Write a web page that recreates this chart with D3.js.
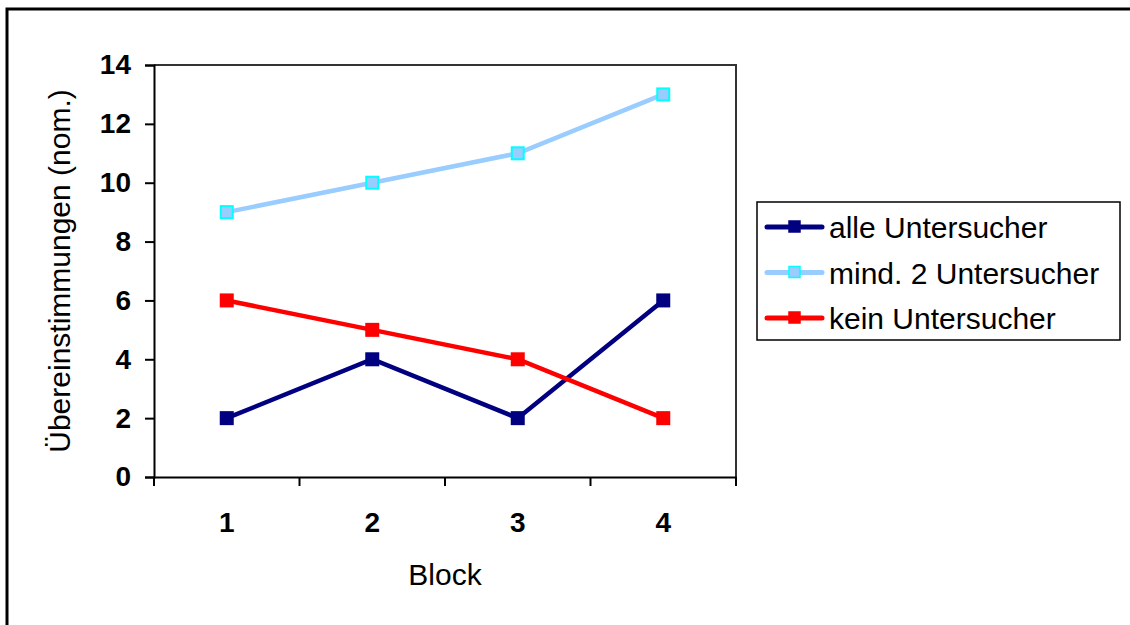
<!DOCTYPE html>
<html>
<head>
<meta charset="utf-8">
<script src="https://cdn.jsdelivr.net/npm/d3@7"></script>
<style>
  body { margin: 0; background: #fff; }
  text { font-family: "Liberation Sans", Arial, sans-serif; }
</style>
</head>
<body>
<div id="grafico"></div>
<script>
// Daten
var blocks = ["1", "2", "3", "4"];
var alleUntersucher = [2, 4, 2, 6];
var mind2Untersucher = [9, 10, 11, 13];
var keinUntersucher = [6, 5, 4, 2];
var yTicks = [0, 2, 4, 6, 8, 10, 12, 14];

var reihen = [
    { name: "alle Untersucher", werte: alleUntersucher, linie: "#000080", fuell: "#000080", rand: "#000080" },
    { name: "mind. 2 Untersucher", werte: mind2Untersucher, linie: "#99CCFF", fuell: "#99CCFF", rand: "#00FFFF" },
    { name: "kein Untersucher", werte: keinUntersucher, linie: "#FF0000", fuell: "#FF0000", rand: "#FF0000" }
];

var width = 1130, height = 625;
var plot = { left: 154, top: 65, right: 736, bottom: 477 };

var svg = d3.select("#grafico")
    .append("svg")
    .attr("width", width)
    .attr("height", height);

// Rahmen
svg.append("rect")
    .attr("x", 7).attr("y", 9)
    .attr("width", 1140).attr("height", 640)
    .attr("fill", "none").attr("stroke", "#000").attr("stroke-width", 3);

var x = d3.scaleBand().domain(blocks).range([plot.left, plot.right]);
var y = d3.scaleLinear().domain([0, 14]).range([plot.bottom, plot.top]);

// Zeichenfläche (oben und rechts)
svg.append("path")
    .attr("d", "M" + plot.left + "," + plot.top + "H" + plot.right + "V" + plot.bottom)
    .attr("fill", "none").attr("stroke", "#333").attr("stroke-width", 2);

// Y-Achse
var yAxis = svg.append("g")
    .attr("transform", "translate(" + plot.left + ",0)")
    .call(d3.axisLeft(y).tickValues(yTicks).tickSize(9).tickPadding(14));
yAxis.attr("font-size", 28).attr("font-family", null);
yAxis.selectAll("text").attr("font-weight", "bold").attr("fill", "#000");
yAxis.selectAll("line, path").attr("stroke", "#000").attr("stroke-width", 2);

// X-Achse
var xAxis = svg.append("g")
    .attr("transform", "translate(0," + plot.bottom + ")")
    .call(d3.axisBottom(x).tickSize(0).tickPadding(35));
xAxis.attr("font-size", 28).attr("font-family", null);
xAxis.selectAll("text").attr("font-weight", "bold").attr("fill", "#000");
xAxis.select("path").attr("stroke", "#000").attr("stroke-width", 2);
// Trennstriche zwischen den Kategorien
var grenzen = blocks.map(function(b) { return x(b); }).concat([x(blocks[blocks.length - 1]) + x.bandwidth()]);
xAxis.selectAll("line.grenze")
    .data(grenzen)
    .enter()
    .append("line")
    .attr("class", "grenze")
    .attr("x1", function(d) { return d; }).attr("x2", function(d) { return d; })
    .attr("y1", 0).attr("y2", 9)
    .attr("stroke", "#000").attr("stroke-width", 2);

// Achsentitel
svg.append("text")
    .attr("transform", "translate(70,271) rotate(-90)")
    .attr("text-anchor", "middle")
    .attr("font-size", 30)
    .text("Übereinstimmungen (nom.)");

svg.append("text")
    .attr("x", x("2") + x.bandwidth()).attr("y", 585)
    .attr("text-anchor", "middle")
    .attr("font-size", 30)
    .text("Block");

// Linien
var linie = d3.line()
    .x(function(d, i) { return x(blocks[i]) + x.bandwidth() / 2; })
    .y(function(d) { return y(d); });

var gruppen = svg.selectAll("g.reihe")
    .data(reihen)
    .enter()
    .append("g")
    .attr("class", "reihe");

gruppen.append("path")
    .attr("d", function(d) { return linie(d.werte); })
    .attr("fill", "none")
    .attr("stroke", function(d) { return d.linie; })
    .attr("stroke-width", 4.5);

gruppen.selectAll("rect")
    .data(function(d) { return d.werte.map(function(v, i) { return { v: v, i: i, r: d }; }); })
    .enter()
    .append("rect")
    .attr("x", function(d) { return x(blocks[d.i]) + x.bandwidth() / 2 - 6; })
    .attr("y", function(d) { return y(d.v) - 6; })
    .attr("width", 12).attr("height", 12)
    .attr("fill", function(d) { return d.r.fuell; })
    .attr("stroke", function(d) { return d.r.rand; })
    .attr("stroke-width", 2);

// Legende
var legende = svg.append("g");
legende.append("rect")
    .attr("x", 757).attr("y", 202)
    .attr("width", 363).attr("height", 138)
    .attr("fill", "#fff").attr("stroke", "#000").attr("stroke-width", 1.5);

var eintraege = legende.selectAll("g.eintrag")
    .data(reihen)
    .enter()
    .append("g")
    .attr("class", "eintrag")
    .attr("transform", function(d, i) { return "translate(0," + (227 + i * 45.5) + ")"; });

eintraege.append("line")
    .attr("x1", 767).attr("x2", 822)
    .attr("y1", 0).attr("y2", 0)
    .attr("stroke", function(d) { return d.linie; })
    .attr("stroke-width", 5)
    .attr("stroke-linecap", "round");

eintraege.append("rect")
    .attr("x", 789).attr("y", -6)
    .attr("width", 11).attr("height", 11)
    .attr("fill", function(d) { return d.fuell; })
    .attr("stroke", function(d) { return d.rand; })
    .attr("stroke-width", 1.5);

eintraege.append("text")
    .attr("x", 829).attr("y", 11)
    .attr("font-size", 30)
    .text(function(d) { return d.name; });
</script>
</body>
</html>
